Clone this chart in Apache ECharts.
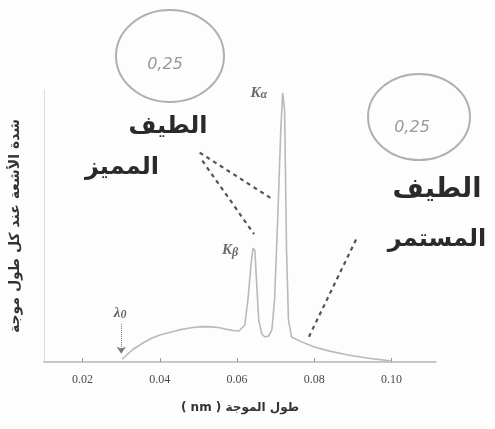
<!DOCTYPE html>
<html>
<head>
<meta charset="utf-8">
<script src="https://cdn.jsdelivr.net/npm/echarts@6/dist/echarts.min.js"></script>
<style>
  html, body { margin: 0; padding: 0; background: #fdfdfd; }
  #chart { width: 495px; height: 429px; }
</style>
</head>
<body>
<div id="chart"></div>
<script>
// spectrum (wavelength nm, relative intensity)
const wavelength = [
  0.0302, 0.0330, 0.0356, 0.0380, 0.0400, 0.0450, 0.0485, 0.0510, 0.0536,
  0.0555, 0.0569, 0.0590, 0.0605, 0.0620, 0.0628, 0.0636, 0.0641, 0.0646,
  0.0651, 0.0656, 0.0664, 0.0672, 0.0682, 0.0690, 0.0697, 0.0705, 0.0713,
  0.0718, 0.0723, 0.0728, 0.0733, 0.0741, 0.0767, 0.0800, 0.0840, 0.0887,
  0.0940, 0.0997
];
const intensity = [
  1, 4.6, 7, 8.8, 9.9, 11.8, 12.7, 13, 12.9,
  12.6, 12.1, 11.6, 11.4, 13.6, 22.8, 35.7, 41.9, 41,
  28, 15.4, 10.3, 9.2, 9.6, 11.8, 22.8, 52, 85,
  99, 92.6, 41, 15.4, 9.2, 7.4, 5.5, 4, 2.6,
  1.4, 0.4
];
const xTicks = [0.02, 0.04, 0.06, 0.08, 0.10];

// peak / cut-off labels
const markNames = ["λ0", "Kβ", "Kα"];
const markX = [0.0297, 0.0582, 0.0656];
const markY = [18, 41, 99];

// dashed pointers from the handwritten notes
const pointerStart = [[0.0503, 77], [0.0510, 74], [0.0908, 45]];
const pointerEnd = [[0.0690, 60], [0.0644, 47], [0.0785, 9]];

// cut-off arrow
const arrowFrom = [0.0300, 14];
const arrowTo = [0.0300, 3];

const chart = echarts.init(document.getElementById("chart"));

const pointerLines = pointerStart.map((p, i) => [
  { coord: p },
  { coord: pointerEnd[i] },
]);

chart.setOption({
  animation: false,
  backgroundColor: "#fdfdfd",
  grid: { left: 40, right: 59, top: 90, bottom: 67 },
  xAxis: {
    type: "value",
    min: 0.01,
    max: 0.1115,
    name: "( nm ) طول الموجة",
    nameLocation: "middle",
    nameGap: 40,
    nameTextStyle: { fontFamily: "DejaVu Sans", fontSize: 12, color: "#333", fontWeight: "bold" },
    axisLine: { lineStyle: { color: "#b5b5b5", width: 1.5 } },
    axisTick: { show: true, inside: true, length: 4, customValues: xTicks, lineStyle: { color: "#999" } },
    axisLabel: {
      customValues: xTicks,
      formatter: (v) => v.toFixed(2),
      fontFamily: "Liberation Serif",
      fontSize: 12,
      color: "#4a4a4a",
      margin: 12,
    },
    splitLine: { show: false },
  },
  yAxis: {
    type: "value",
    min: 0,
    max: 100,
    name: "شدة الأشعة عند كل طول موجة",
    nameLocation: "middle",
    nameRotate: 90,
    nameGap: 22,
    nameTextStyle: { fontFamily: "DejaVu Sans", fontSize: 14, color: "#333", fontWeight: "bold" },
    axisLine: { show: true, lineStyle: { color: "#dcdcdc", width: 1 } },
    axisTick: { show: false },
    axisLabel: { show: false },
    splitLine: { show: false },
  },
  series: [
    {
      name: "spectrum",
      type: "line",
      data: wavelength.map((w, i) => [w, intensity[i]]),
      showSymbol: false,
      lineStyle: { color: "#b9b9b9", width: 1.6 },
      silent: true,
    },
    {
      name: "labels",
      type: "scatter",
      symbolSize: 0,
      data: markNames.map((n, i) => ({ name: n, value: [markX[i], markY[i]] })),
      label: {
        show: true,
        position: "inside",
        formatter: (p) => "{k|" + p.name[0] + "}{s|" + p.name.slice(1) + "}",
        rich: {
          k: { fontFamily: "Liberation Serif", fontStyle: "italic", fontWeight: "bold", fontSize: 15, color: "#444" },
          s: { fontFamily: "Liberation Serif", fontStyle: "italic", fontWeight: "bold", fontSize: 12, color: "#444", padding: [4, 0, 0, 0] },
        },
      },
      silent: true,
    },
    {
      name: "pointers",
      type: "line",
      data: [],
      markLine: {
        silent: true,
        symbol: ["none", "none"],
        label: { show: false },
        lineStyle: { color: "#555", width: 2.2, type: [4, 4] },
        data: pointerLines,
      },
    },
    {
      name: "cutoff",
      type: "line",
      data: [],
      markLine: {
        silent: true,
        symbol: ["none", "arrow"],
        symbolSize: 7,
        label: { show: false },
        lineStyle: { color: "#777", width: 1, type: "dotted" },
        data: [[{ coord: arrowFrom }, { coord: arrowTo }]],
      },
    },
  ],
  graphic: [
    // handwritten notes on the scan
    { type: "ellipse", shape: { cx: 170, cy: 56, rx: 54, ry: 46 }, style: { fill: "none", stroke: "#b0b0b0", lineWidth: 2 } },
    { type: "text", x: 165, y: 65, style: { text: "0,25", fill: "#999", font: "italic 16px DejaVu Sans", align: "center", verticalAlign: "middle" } },
    { type: "text", x: 168, y: 127, style: { text: "الطيف", fill: "#2a2a2a", font: "bold 24px DejaVu Sans", align: "center", verticalAlign: "middle" } },
    { type: "text", x: 122, y: 168, style: { text: "المميز", fill: "#2a2a2a", font: "bold 24px DejaVu Sans", align: "center", verticalAlign: "middle" } },
    { type: "ellipse", shape: { cx: 419, cy: 117, rx: 51, ry: 43 }, style: { fill: "none", stroke: "#b0b0b0", lineWidth: 2 } },
    { type: "text", x: 412, y: 128, style: { text: "0,25", fill: "#999", font: "italic 16px DejaVu Sans", align: "center", verticalAlign: "middle" } },
    { type: "text", x: 437, y: 190, style: { text: "الطيف", fill: "#2a2a2a", font: "bold 27px DejaVu Sans", align: "center", verticalAlign: "middle" } },
    { type: "text", x: 437, y: 240, style: { text: "المستمر", fill: "#2a2a2a", font: "bold 24px DejaVu Sans", align: "center", verticalAlign: "middle" } },
  ],
});
</script>
</body>
</html>
